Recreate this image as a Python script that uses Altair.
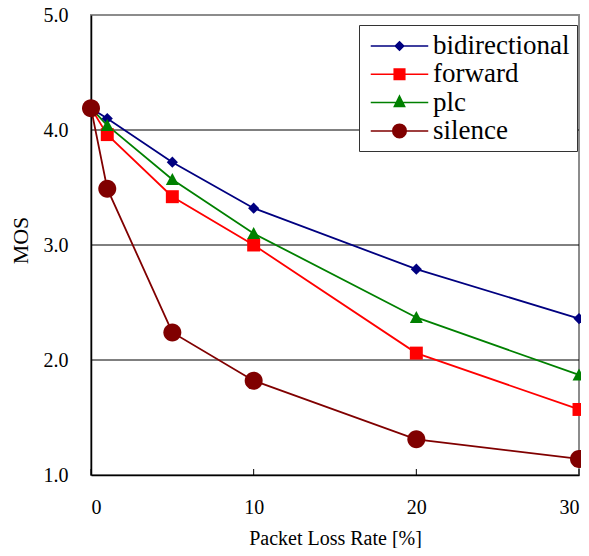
import altair as alt
import pandas as pd

# ---- data ----
loss_rate = [0, 1, 5, 10, 20, 30]
series_names = ["bidirectional", "forward", "plc", "silence"]
bidirectional = [4.19, 4.10, 3.72, 3.32, 2.79, 2.36]
forward = [4.19, 3.96, 3.42, 3.00, 2.06, 1.57]
plc = [4.19, 4.04, 3.57, 3.10, 2.37, 1.87]
silence = [4.19, 3.49, 2.24, 1.82, 1.31, 1.14]
x_ticks = [0, 10, 20, 30]
y_ticks = [1, 2, 3, 4, 5]
grid_values = [2, 3, 4]

colors = ["#000080", "#ff0000", "#008000", "#800000"]
legend_line = "M-2.17,0H2.17 "
legend_shapes = [
    legend_line + "M0,-0.32L0.32,0L0,0.32L-0.32,0Z",
    legend_line + "M-0.4,-0.4H0.4V0.4H-0.4Z",
    legend_line + "M0,-0.5L0.39,0.3H-0.39Z",
    legend_line + "M-0.51,0A0.51,0.51 0 1,0 0.51,0A0.51,0.51 0 1,0 -0.51,0Z",
]
plot_shapes = [
    "M0,-0.62L0.62,0L0,0.62L-0.62,0Z",
    "M-0.72,-0.72H0.72V0.72H-0.72Z",
    "M0,-0.72L0.72,0.62H-0.72Z",
    "M-1,0A1,1 0 1,0 1,0A1,1 0 1,0 -1,0Z",
]

rows = []
for name, vals in zip(series_names, [bidirectional, forward, plc, silence]):
    for xv, yv in zip(loss_rate, vals):
        rows.append({"x": xv, "mos": yv, "series": name})
df = pd.DataFrame(rows)

point_keys = [n + " pt" for n in series_names]
key_domain = series_names + point_keys
shape_scale = alt.Scale(domain=key_domain, range=legend_shapes + plot_shapes)
key_color_scale = alt.Scale(domain=key_domain, range=colors + colors)

W, H = 488, 460
FONT = "Liberation Serif, Times New Roman, serif"

xscale = alt.Scale(domain=[0, 30], nice=False, zero=False)
yscale = alt.Scale(domain=[1, 5], nice=False, zero=False)
cscale = alt.Scale(domain=series_names, range=colors)

x_enc = alt.X(
    "x:Q", scale=xscale,
    axis=alt.Axis(values=x_ticks, format="d", ticks=False, tickSize=0, grid=False,
                  labelFont=FONT, labelFontSize=20, labelColor="black", labelPadding=22,
                  domainColor="black", domainWidth=1.5,
                  title="Packet Loss Rate [%]", titleFont=FONT, titleFontSize=20,
                  titleFontWeight="normal", titleColor="black",
                  titleBaseline="alphabetic", titleY=69.5),
)
y_enc = alt.Y(
    "mos:Q", scale=yscale,
    axis=alt.Axis(values=y_ticks, format=".1f", ticks=False, tickSize=0, grid=False,
                  labelFont=FONT, labelFontSize=20, labelColor="black", labelPadding=23,
                  domainColor="black", domainWidth=1.5,
                  title="MOS", titleFont=FONT, titleFontSize=22, titleFontWeight="normal",
                  titleColor="black", titleAngle=270, titleBaseline="middle",
                  titleAlign="center", titleX=-70.5, titleY=225),
)

leg = alt.Legend(
    orient="none", legendX=268, legendY=10, title=None, values=series_names,
    padding=7, symbolOffset=19.5, labelOffset=19.5, rowPadding=1.3,
    symbolSize=702, symbolStrokeWidth=1.5, symbolOpacity=1,
    labelFont=FONT, labelFontSize=27, labelColor="black",
    strokeColor="#333333", fillColor="white",
)

base = alt.Chart(df)

grid = alt.Chart(pd.DataFrame({"g": grid_values})).mark_rule(
    color="black", strokeWidth=1
).encode(y=alt.Y("g:Q", scale=yscale))

ticks = alt.Chart(pd.DataFrame({"t": x_ticks})).mark_rule(
    color="black", strokeWidth=1
).encode(x=alt.X("t:Q", scale=xscale), y=alt.value(H - 6), y2=alt.value(H))

lines = base.mark_line(strokeWidth=1.8).encode(
    x=x_enc, y=y_enc,
    color=alt.Color("series:N", scale=cscale, legend=None),
    detail="series:N",
)

points = base.transform_calculate(
    skey="datum.series + ' pt'"
).mark_point(filled=True, opacity=1, size=324, strokeWidth=0).encode(
    x="x:Q", y="mos:Q",
    fill=alt.Fill("skey:N", scale=key_color_scale, legend=leg),
    stroke=alt.Stroke("skey:N", scale=key_color_scale, legend=leg),
    shape=alt.Shape("skey:N", scale=shape_scale, legend=leg),
)

chart = alt.layer(grid, ticks, lines, points).properties(
    width=W, height=H,
    autosize=alt.AutoSizeParams(type="none"),
    padding={"left": 83, "top": 7, "right": 2, "bottom": 73},
    background="white",
).configure_view(
    stroke="#8c8c8c", strokeWidth=2
)

chart.save("out.html", embed_options={"renderer": "svg", "actions": False})
